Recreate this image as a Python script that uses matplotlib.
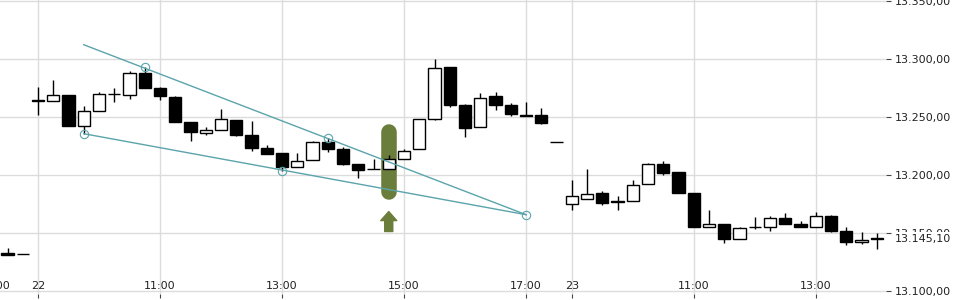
import numpy as np
import matplotlib
matplotlib.use("Agg")
import matplotlib.pyplot as plt
from matplotlib.ticker import FuncFormatter

# 15-minute candles, position = bar index (0 = 22nd 09:00, 35 = 23rd 09:00)
idx = list(range(-2, 56))
opens = [13133.0, 13131.9,
         13264.9, 13263.8, 13269.0, 13242.2, 13255.2, 13269.8, 13269.0, 13287.9,
         13275.0, 13267.5, 13246.0, 13235.9, 13238.5, 13247.4, 13234.7, 13223.3,
         13219.0, 13206.9, 13212.9, 13228.5, 13222.4, 13209.8, 13205.2, 13205.2,
         13213.8, 13222.4, 13248.3, 13293.1, 13260.6, 13241.4, 13268.1, 13260.6,
         13251.7, 13251.7, 13228.5,
         13175.0, 13179.3, 13184.7, 13178.0, 13177.6, 13192.2, 13209.8, 13202.9,
         13184.7, 13154.8, 13157.8, 13144.8, 13154.8, 13154.8, 13162.9, 13157.8,
         13154.8, 13164.9, 13152.0, 13141.9, 13146.0]
highs = [13137.1, 13131.9,
         13275.9, 13282.2, 13269.0, 13259.7, 13271.8, 13275.0, 13289.3, 13292.8,
         13276.0, 13268.4, 13246.0, 13241.6, 13257.2, 13247.4, 13246.6, 13226.1,
         13219.0, 13219.0, 13229.3, 13231.9, 13223.8, 13209.8, 13213.8, 13217.5,
         13222.7, 13248.3, 13300.3, 13293.1, 13261.5, 13271.0, 13271.8, 13262.1,
         13263.2, 13258.0, 13228.5,
         13196.0, 13205.4, 13186.5, 13181.9, 13196.0, 13210.6, 13212.3, 13202.9,
         13184.7, 13170.1, 13157.8, 13155.4, 13163.8, 13164.9, 13167.5, 13160.6,
         13168.0, 13165.5, 13155.1, 13150.8, 13149.7]
lows = [13131.3, 13131.9,
        13252.0, 13263.8, 13241.9, 13235.6, 13255.2, 13262.6, 13265.5, 13274.7,
        13264.3, 13245.3, 13229.0, 13234.1, 13238.5, 13233.6, 13220.4, 13217.8,
        13203.5, 13206.9, 13212.9, 13219.5, 13208.3, 13197.1, 13205.2, 13205.2,
        13213.8, 13222.4, 13247.1, 13258.9, 13232.4, 13241.4, 13255.7, 13250.5,
        13250.5, 13243.6, 13228.5,
        13169.5, 13179.3, 13174.4, 13170.1, 13177.6, 13192.2, 13199.7, 13184.2,
        13154.8, 13154.8, 13141.0, 13144.8, 13153.4, 13151.4, 13157.8, 13154.8,
        13154.8, 13150.5, 13139.4, 13140.3, 13136.5]
closes = [13131.3, 13131.9,
          13263.5, 13269.0, 13241.9, 13254.8, 13269.8, 13269.8, 13287.9, 13274.7,
          13267.8, 13245.3, 13236.7, 13238.8, 13248.3, 13234.1, 13222.9, 13217.8,
          13206.6, 13212.1, 13228.5, 13222.1, 13209.5, 13204.0, 13205.2, 13213.8,
          13220.7, 13248.3, 13292.2, 13260.0, 13240.2, 13266.4, 13260.0, 13252.3,
          13250.5, 13244.5, 13228.5,
          13181.9, 13183.6, 13175.5, 13176.8, 13191.4, 13209.5, 13201.4, 13184.2,
          13154.8, 13157.8, 13144.8, 13154.3, 13154.8, 13162.9, 13157.8, 13154.8,
          13164.6, 13151.4, 13141.9, 13144.2, 13145.1]

xtick_pos = [0, 8, 16, 24, 32, 35, 43, 51]
xtick_labels = ["22", "11:00", "13:00", "15:00", "17:00", "23", "11:00", "13:00"]
prev_tick = (-3, "17:00")   # partly cut off at the left edge
ytick_vals = [13100, 13150, 13200, 13250, 13300, 13350]
last_price = 13145.10

# drawn trend lines (bar index, price)
upper_line = ([3, 32], [13312.3, 13165.8])
lower_line = ([3, 32], [13235.6, 13165.8])
anchor_x = [3, 7, 16, 19, 32]
anchor_y = [13235.6, 13292.8, 13203.5, 13231.9, 13165.8]

# signal highlight
signal_idx = 23
signal_band = (13185.3, 13237.3)
signal_arrow = (13151.3, 13168.5)

TEAL = "#5ba4ab"
OLIVE = "#6a7d3a"
GRID = "#dcdcdc"
TXT = "#222222"


def de_fmt(v, pos=None):
    s = f"{v:,.2f}"
    return s.replace(",", "X").replace(".", ",").replace("X", ".")


fig = plt.figure(figsize=(9.6, 3.0), dpi=100)
ax = fig.add_axes([0, 0.02, 886 / 960, 0.98])

for s in ax.spines.values():
    s.set_visible(False)

ax.set_yticks(ytick_vals)
ax.yaxis.set_major_formatter(FuncFormatter(de_fmt))
ax.yaxis.tick_right()
ax.tick_params(axis="y", direction="out", length=3.5, width=0.8, color="#444444",
               labelsize=8, labelcolor=TXT, pad=3)
ax.set_xticks(xtick_pos)
ax.set_xticklabels(xtick_labels)
ax.tick_params(axis="x", direction="out", length=3, width=0.8, color="#444444",
               labelsize=8, labelcolor=TXT, pad=-12.5)
ax.grid(True, color=GRID, linewidth=1.0, zorder=0)
ax.set_axisbelow(True)

# limits after the ticks, otherwise set_xticks widens the view
ax.set_xlim(-38 / 15.25, (886 - 38) / 15.25)
ax.set_ylim(13100 - 3 / 1.16, 13100 + 291 / 1.16)

ax.annotate(prev_tick[1], xy=(prev_tick[0], 0), xycoords=("data", "axes fraction"),
            xytext=(1.5, 9.5), textcoords="offset points", ha="center", va="top",
            fontsize=8, color=TXT, annotation_clip=False)

# highlight bar behind candles
ax.plot([signal_idx, signal_idx], signal_band, color=OLIVE, linewidth=11.2,
        solid_capstyle="round", zorder=1)
ax.annotate("", xy=(signal_idx, signal_arrow[1]), xytext=(signal_idx, signal_arrow[0]),
            arrowprops=dict(arrowstyle="simple,head_width=1.15,head_length=0.65,tail_width=0.58",
                            color=OLIVE, shrinkA=0, shrinkB=0), zorder=1)

# candles
w = 0.8
for x, o, h, l, c in zip(idx, opens, highs, lows, closes):
    ax.vlines(x, l, h, color="black", linewidth=1.0, zorder=2)
    if abs(c - o) < 0.3:
        ax.hlines(o, x - w / 2, x + w / 2, color="black", linewidth=1.0, zorder=3)
    else:
        face = "white" if c > o else "black"
        ax.bar(x, abs(c - o), bottom=min(o, c), width=w, color=face,
               edgecolor="black", linewidth=1.0, zorder=3)

# trend lines
ax.plot(*upper_line, color=TEAL, linewidth=1.0, zorder=4)
ax.plot(*lower_line, color=TEAL, linewidth=1.0, zorder=4)
ax.plot(anchor_x, anchor_y, linestyle="none", marker="o", markersize=6,
        markerfacecolor="none", markeredgecolor=TEAL, markeredgewidth=0.8, zorder=4)

# last price tag on the axis
ax.annotate(de_fmt(last_price), xy=(1, last_price), xycoords=("axes fraction", "data"),
            xytext=(6.5, 0), textcoords="offset points", ha="left", va="center",
            fontsize=8, color=TXT, annotation_clip=False,
            bbox=dict(boxstyle="square,pad=0.15", fc="white", ec="none"), zorder=10)

fig.savefig("out.png", dpi=100)
